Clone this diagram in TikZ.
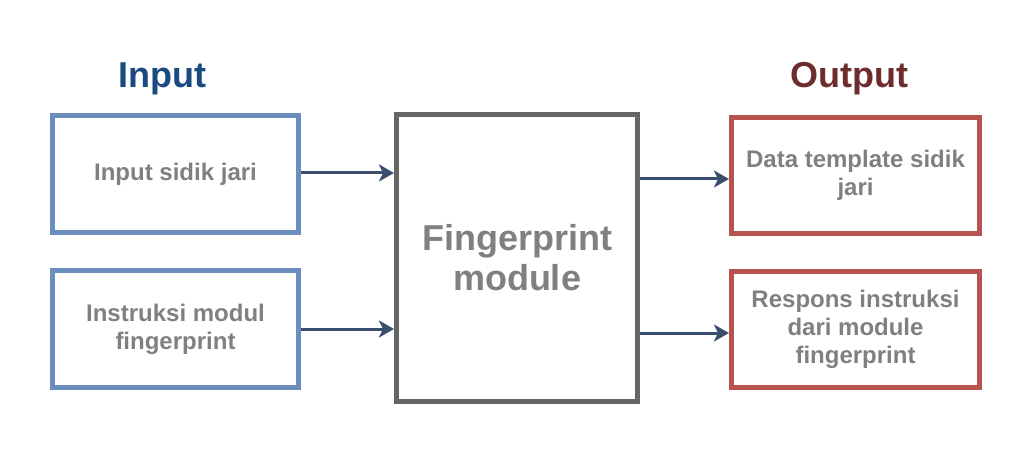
\documentclass[tikz,border=0pt]{standalone}
\usepackage{fontspec}
\setmainfont{Liberation Sans}
\usetikzlibrary{arrows.meta}
\definecolor{inblue}{HTML}{6C8EBF}
\definecolor{outred}{HTML}{B85450}
\definecolor{coregray}{HTML}{666666}
\definecolor{txtgray}{HTML}{808080}
\definecolor{arrblue}{HTML}{3A4F6E}
\definecolor{titleblue}{HTML}{1A4A80}
\definecolor{titlered}{HTML}{6E2C2C}
\begin{document}
\begin{tikzpicture}[x=1pt,y=-1pt]
    \tikzstyle{box}=[rectangle,draw,line width=5pt,fill=white,inner sep=0pt,align=center,
                     text=txtgray,font=\bfseries\fontsize{24}{28}\selectfont]
    \tikzstyle{inbox}=[box,draw=inblue,minimum width=246pt,minimum height=117pt]
    \tikzstyle{outbox}=[box,draw=outred,minimum width=248pt,minimum height=116pt]
    \tikzstyle{corebox}=[box,draw=coregray,minimum width=241pt,minimum height=287pt,
                         font=\bfseries\fontsize{36}{40}\selectfont]
    \tikzstyle{title}=[anchor=base,font=\bfseries\fontsize{36}{40}\selectfont]
    \tikzstyle{arr}=[draw=arrblue,line width=3pt,-{Stealth[length=15pt,width=17pt,inset=4pt]}]
    \useasboundingbox (0,0) rectangle (1032,454);

    \node[title,text=titleblue] (intitle)  at (162.5,88) {Input};
    \node[title,text=titlered]  (outtitle) at (849.5,88) {Output};

    \node[inbox] (sidik) at (175.5,174) {Input sidik jari};
    \node[inbox] (instr) at (175.5,329) {Instruksi modul\\fingerprint};

    \node[corebox] (core) at (517,258) {Fingerprint\\module};

    \node[outbox] (tmpl) at (855.5,175.5) {Data template sidik\\jari};
    \node[outbox] (resp) at (855.5,329)   {Respons instruksi\\dari module\\fingerprint};

    \draw[arr] ([yshift=1pt]sidik.east) -- ([yshift=1pt]sidik.east -| core.west);
    \draw[arr] (instr.east) -- (instr.east -| core.west);
    \draw[arr] ([yshift=-3.5pt]tmpl.west -| core.east) -- ([yshift=-3.5pt]tmpl.west);
    \draw[arr] ([yshift=-4pt]resp.west -| core.east) -- ([yshift=-4pt]resp.west);

\end{tikzpicture}
\end{document}
